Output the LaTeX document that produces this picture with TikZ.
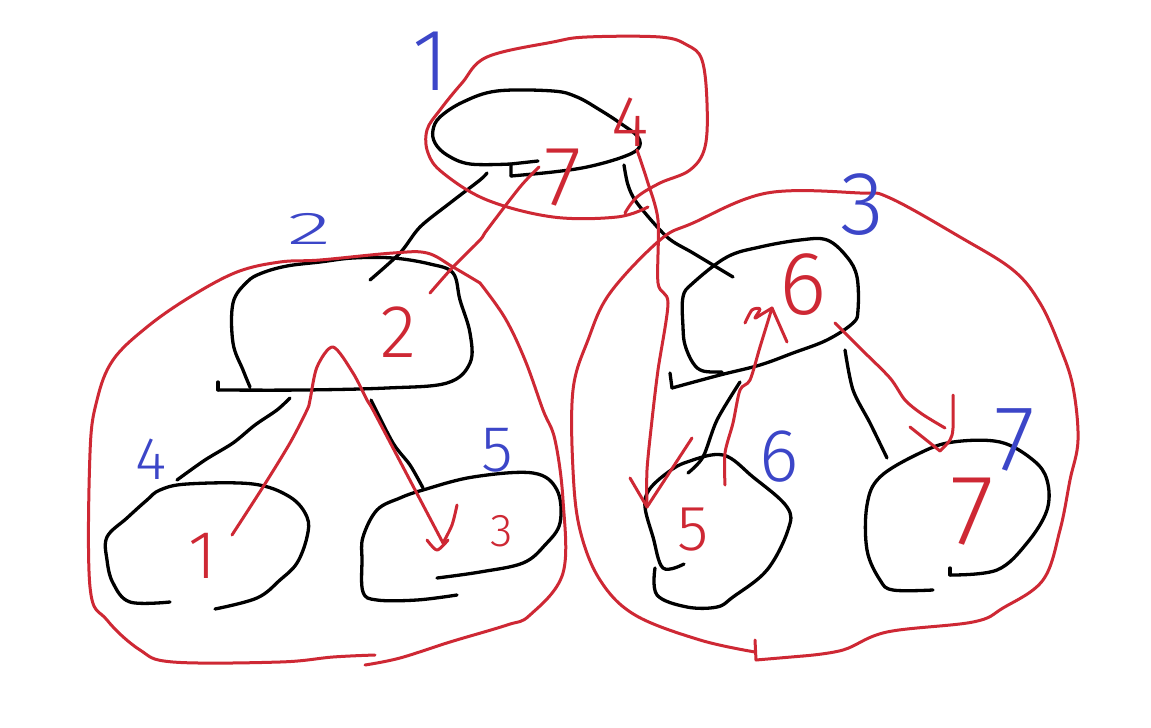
\documentclass[tikz,border=0pt]{standalone}
\usepackage{fontspec}
\newfontfamily\hand{Fira Sans Light}
\definecolor{inkred}{RGB}{206,40,52}
\definecolor{inkblue}{RGB}{60,70,200}
\tikzset{
  blk/.style={draw=black,line width=3.3pt,line cap=round,line join=round},
  rd/.style={draw=inkred,line width=3pt,line cap=round,line join=round},
  rtxt/.style={text=inkred,inner sep=0pt,font=\hand},
  btxt/.style={text=inkblue,inner sep=0pt,font=\hand},
}
\newcommand{\fsz}[1]{\fontsize{#1}{#1}\selectfont}
\begin{document}
\begin{tikzpicture}[x=1pt,y=-1pt]
\useasboundingbox[fill=white] (0,0) rectangle (1151,728);

% ---------- black tree nodes (hand drawn blobs) ----------
% root
\draw[blk] (538,161) -- (511,164) -- (511,176);
\draw[blk] plot[smooth,tension=0.6] coordinates {(511,176) (553,172) (587,167) (620,158) (638,149) (638,137) (620,123) (600,110) (577,97) (553,91) (497,91) (463,102) (440,117) (433,130) (435,143) (447,155) (470,164) (511,164)};
% node 2
\draw[blk] (218,382) -- (218,390);
\draw[blk] plot[smooth,tension=0.6] coordinates {(218,390) (303,390) (387,388) (447,383) (470,363) (470,333) (460,300) (453,273) (430,264) (393,258) (353,258) (320,262) (287,266) (262,273) (247,282) (233,303) (233,343) (243,370) (250,387)};
% node 4
\draw[blk] plot[smooth,tension=0.6] coordinates {(170,602) (130,602) (113,583) (107,560) (107,537) (127,518) (147,500) (160,490) (187,484) (253,484) (290,497) (307,517) (307,537) (297,563) (280,580) (257,598) (215,609)};
% node 5
\draw[blk] plot[smooth,tension=0.6] coordinates {(457,595) (417,600) (377,600) (363,592) (362,560) (363,537) (377,510) (400,498) (423,490) (473,477) (533,473) (557,490) (560,523) (545,545) (523,563) (480,572) (437,578)};
% node 3
\draw[blk] (670,373) -- (672,388);
\draw[blk] plot[smooth,tension=0.6] coordinates {(672,388) (720,375) (760,365) (793,353) (827,340) (853,323) (858,310) (857,277) (847,257) (827,240) (800,240) (760,247) (727,257) (693,283) (683,297) (683,327) (685,345) (693,363) (703,371) (722,372)};
% node 6
\draw[blk] plot[smooth,tension=0.6] coordinates {(684,564) (663,568) (653,537) (645,507) (649,490) (667,473) (687,462) (723,455) (753,477) (787,507) (788,530) (767,570) (733,597) (717,607) (687,607) (657,595) (655,568)};
% node 7
\draw[blk] (950,568) -- (950,575);
\draw[blk] plot[smooth,tension=0.6] coordinates {(933,590) (893,590) (880,580) (867,550) (867,505) (880,477) (920,453) (953,442) (1000,442) (1033,460) (1047,480) (1047,510) (1027,543) (997,570) (950,575)};

% ---------- black tree edges ----------
\coordinate (r-l) at (487,173);  \coordinate (n2-t) at (370,280);
\coordinate (r-r) at (624,165);  \coordinate (n3-t) at (733,277);
\coordinate (n2-bl) at (290,398); \coordinate (n4-t) at (177,480);
\coordinate (n2-br) at (371,400); \coordinate (n5-t) at (423,488);
\coordinate (n3-bl) at (740,382); \coordinate (n6-t) at (688,473);
\coordinate (n3-br) at (845,350); \coordinate (n7-t) at (887,458);
\draw[blk] plot[smooth] coordinates {(r-l) (480,180) (450,203) (420,227) (400,253) (n2-t)};
\draw[blk] plot[smooth] coordinates {(r-r) (628,185) (637,203) (667,237) (693,253) (n3-t)};
\draw[blk] plot[smooth] coordinates {(n2-bl) (277,410) (255,425) (233,443) (205,460) (n4-t)};
\draw[blk] plot[smooth] coordinates {(n2-br) (393,443) (410,465) (n5-t)};
\draw[blk] plot[smooth] coordinates {(n3-bl) (717,420) (703,457) (n6-t)};
\draw[blk] plot[smooth] coordinates {(n3-br) (853,390) (870,423) (n7-t)};

% ---------- red enclosing loops ----------
\draw[rd] plot[smooth,tension=0.6] coordinates {(625,213) (637,197) (660,183) (690,170) (705,147) (707,103) (702,60) (687,45) (660,37) (587,37) (553,42) (487,57) (462,83) (440,110) (427,130) (428,153) (443,173) (487,200) (553,217) (617,217) (648,207)};
\draw[rd] plot[smooth,tension=0.6] coordinates {(480,283) (453,267) (427,253) (393,253) (320,260) (280,262) (237,272) (190,297) (147,327) (113,360) (97,400) (90,453) (90,587) (107,620) (140,650) (173,662) (280,662) (333,657) (375,655)};
\draw[rd] plot[smooth,tension=0.6] coordinates {(365,665) (400,658) (450,642) (507,625) (530,615) (563,573) (563,500) (555,440) (543,410) (525,360) (505,318) (480,283)};
\draw[rd] (755,640) -- (756,660) -- (803,656);
\draw[rd] plot[smooth,tension=0.6] coordinates {(803,656) (843,650) (887,632) (973,622) (1003,608) (1043,580) (1060,530) (1070,480) (1078,440) (1073,387) (1060,347) (1040,303) (1013,270) (960,237) (890,198) (860,193) (767,193) (693,223) (660,240) (610,293) (588,340) (573,390) (573,470) (580,530) (600,580) (635,615) (700,640) (755,652)};

% ---------- text ----------
\node[btxt,font=\hand\fsz{88}] (b1) at (431,61) {1};
\node[btxt,font=\hand\fsz{46},xscale=2] (b2) at (310,229) {2};
\node[btxt,font=\hand\fsz{90}] (b3) at (862,205) {3};
\node[btxt,font=\hand\fsz{60}] (b4) at (151,459) {4};
\node[btxt,font=\hand\fsz{65}] (b5) at (497,450) {5};
\node[btxt,font=\hand\fsz{75}] (b6) at (779,457) {6};
\node[btxt,font=\hand\fsz{93}] (b7) at (1015,440) {7};

\node[rtxt,font=\hand\fsz{72}] (v4) at (630,122) {4};
\node[rtxt,font=\hand\fsz{85}] (v7) at (563,178) {7};
\node[rtxt,font=\hand\fsz{75}] (v2) at (398,332) {2};
\node[rtxt,font=\hand\fsz{68}] (v1) at (203,556) {1};
\node[rtxt,font=\hand\fsz{46}] (v3) at (502,531) {3};
\node[rtxt,font=\hand\fsz{64}] (v5) at (693,530) {5};
\node[rtxt,font=\hand\fsz{90}] (v6) at (803,285) {6};
\node[rtxt,font=\hand\fsz{100}] (v77) at (972,512) {7};

% ---------- red swap arrows ----------
% root -> node 6
\coordinate (a1s) at (637,150); \coordinate (a1e) at (647,507);
\draw[rd] plot[smooth] coordinates {(a1s) (647,180) (658,220) (658,283) (668,303) (658,370) (652,420) (647,470) (a1e)};
\draw[rd] (630,478) -- (a1e) -- (692,438);
% node 6 -> node 3
\coordinate (a2s) at (725,485); \coordinate (a2e) at (772,308);
\draw[rd] plot[smooth] coordinates {(a2s) (725,453) (733,423) (740,390) (750,380) (760,347) (a2e)};
\draw[rd] (a2e) -- (787,342);
\draw[rd] plot[smooth] coordinates {(a2e) (762,314) (755,318) (760,309) (752,310) (745,323)};
% node 3 -> node 7
\coordinate (a3s) at (835,323); \coordinate (a3e) at (940,451);
\draw[rd] plot[smooth] coordinates {(a3s) (862,350) (890,378) (905,400) (922,414) (945,428)};
\draw[rd] (910,427) -- (a3e);
\draw[rd] plot[smooth] coordinates {(953,395) (953,428) (950,440) (a3e)};
% node 2 -> root
\coordinate (a4s) at (430,293); \coordinate (a4e) at (539,167);
\draw[rd] plot[smooth] coordinates {(a4s) (453,267) (480,240) (487,230) (520,187) (a4e)};
% node 4 -> node 2 -> node 5
\coordinate (a5s) at (232,535); \coordinate (a5m) at (333,347); \coordinate (a5e) at (443,543);
\draw[rd] plot[smooth] coordinates {(a5s) (263,487) (290,443) (307,410) (310,400) (317,367) (a5m) (353,373) (367,400) (373,410) (403,467) (a5e)};
\draw[rd] plot[smooth] coordinates {(457,505) (452,525) (a5e)};
\draw[rd] plot[smooth] coordinates {(427,540) (437,550) (448,540)};
\end{tikzpicture}
\end{document}
